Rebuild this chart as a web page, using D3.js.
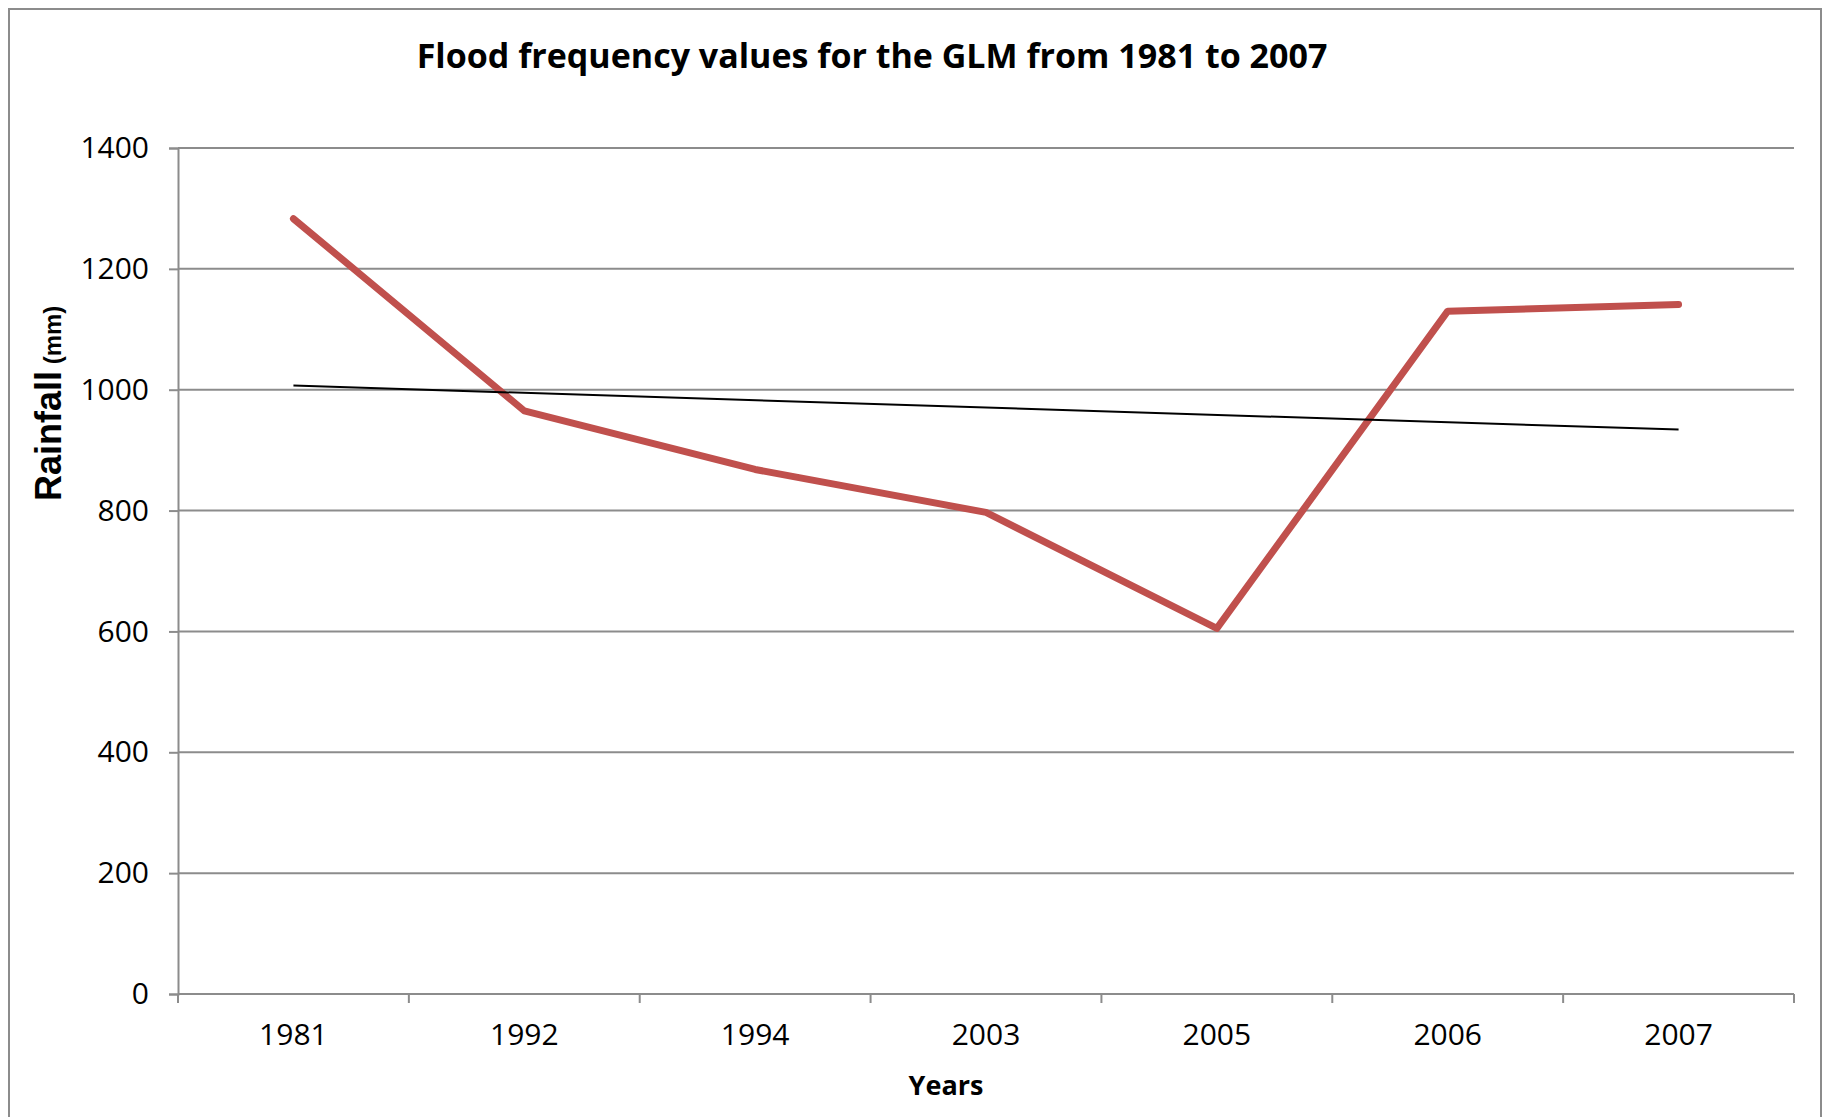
<!DOCTYPE html>
<html>
<head>
<meta charset="utf-8">
<script src="https://cdn.jsdelivr.net/npm/d3@7"></script>
<style>
  body { margin: 0; background: #fff; }
  svg text { fill: #000; }
</style>
</head>
<body>
<main></main>
<script>
// chart data
var years = ["1981", "1992", "1994", "2003", "2005", "2006", "2007"];
var rainfall = [1283, 965, 868, 797, 605, 1130, 1141];
// linear trendline end points (first and last year)
var trendYears = ["1981", "2007"];
var trendValues = [1007, 934];
var yTicks = [0, 200, 400, 600, 800, 1000, 1200, 1400];

var width = 1827, height = 1117;
var plotLeft = 178, plotRight = 1794, plotTop = 148, plotBottom = 994;
var gridColor = "#8c8c8c";

var svgContainer = d3.select("main")
  .append("svg")
    .attr("width", width)
    .attr("height", height);

// outer chart frame
svgContainer.append("rect")
  .attr("x", 9)
  .attr("y", 9)
  .attr("width", 1812)
  .attr("height", 1130)
  .attr("fill", "none")
  .attr("stroke", gridColor)
  .attr("stroke-width", 2);

var x = d3.scaleBand()
  .domain(years)
  .range([plotLeft, plotRight]);

var y = d3.scaleLinear()
  .domain([0, 1400])
  .range([plotBottom, plotTop]);

// horizontal gridlines
svgContainer.append("g")
  .selectAll("line")
  .data(yTicks.slice(1))
  .enter()
  .append("line")
    .attr("x1", plotLeft)
    .attr("x2", plotRight)
    .attr("y1", function(d) { return y(d); })
    .attr("y2", function(d) { return y(d); })
    .attr("stroke", gridColor)
    .attr("stroke-width", 2);

// y axis
var yAxis = svgContainer.append("g")
  .attr("transform", "translate(" + plotLeft + ",0)")
  .call(d3.axisLeft(y).tickValues(yTicks).tickFormat(d3.format("d")).tickSize(9).tickPadding(20));

// x axis, ticks between categories
var xAxis = svgContainer.append("g")
  .attr("transform", "translate(0," + plotBottom + ")")
  .call(d3.axisBottom(x).tickSize(0).tickPadding(30));

xAxis.append("g")
  .selectAll("line")
  .data(years.concat(["end"]))
  .enter()
  .append("line")
    .attr("x1", function(d, i) { return plotLeft + i * x.bandwidth(); })
    .attr("x2", function(d, i) { return plotLeft + i * x.bandwidth(); })
    .attr("y1", 0)
    .attr("y2", 9)
    .attr("stroke", gridColor)
    .attr("stroke-width", 2);

[yAxis, xAxis].forEach(function(ax) {
  ax.selectAll(".domain").attr("stroke", gridColor).attr("stroke-width", 2);
  ax.selectAll(".tick line").attr("stroke", gridColor).attr("stroke-width", 2);
  ax.selectAll("text")
    .attr("font-family", "'Open Sans', sans-serif")
    .attr("font-size", 30)
    .attr("fill", "#000");
});
xAxis.select(".domain").attr("d", "M" + plotLeft + ",0H" + plotRight);

function cx(d) { return x(d) + x.bandwidth() / 2; }

// rainfall series
var line = d3.line()
  .x(function(d, i) { return cx(years[i]); })
  .y(function(d) { return y(d); });

svgContainer.append("path")
  .datum(rainfall)
  .attr("d", line)
  .attr("fill", "none")
  .attr("stroke", "#c0504d")
  .attr("stroke-width", 7)
  .attr("stroke-linejoin", "round")
  .attr("stroke-linecap", "round");

// trendline
var trendLine = d3.line()
  .x(function(d, i) { return cx(trendYears[i]); })
  .y(function(d) { return y(d); });

svgContainer.append("path")
  .datum(trendValues)
  .attr("d", trendLine)
  .attr("fill", "none")
  .attr("stroke", "#000")
  .attr("stroke-width", 2);

// title
svgContainer.append("text")
  .attr("x", 872)
  .attr("y", 68)
  .attr("text-anchor", "middle")
  .attr("font-family", "'Open Sans', sans-serif")
  .attr("font-weight", "bold")
  .attr("font-size", 34)
  .text("Flood frequency values for the GLM from 1981 to 2007");

// x axis title
svgContainer.append("text")
  .attr("x", 946)
  .attr("y", 1095)
  .attr("text-anchor", "middle")
  .attr("font-family", "'Open Sans', sans-serif")
  .attr("font-weight", "bold")
  .attr("font-size", 27)
  .text("Years");

// y axis title
var yTitle = svgContainer.append("text")
  .attr("transform", "translate(61,501) rotate(-90)")
  .attr("font-family", "'Liberation Sans', Arial, sans-serif")
  .attr("font-weight", "bold");
yTitle.append("tspan")
  .attr("font-size", 36)
  .text("Rainfall");
yTitle.append("tspan")
  .attr("font-size", 24)
  .text(" (mm)");
</script>
</body>
</html>
